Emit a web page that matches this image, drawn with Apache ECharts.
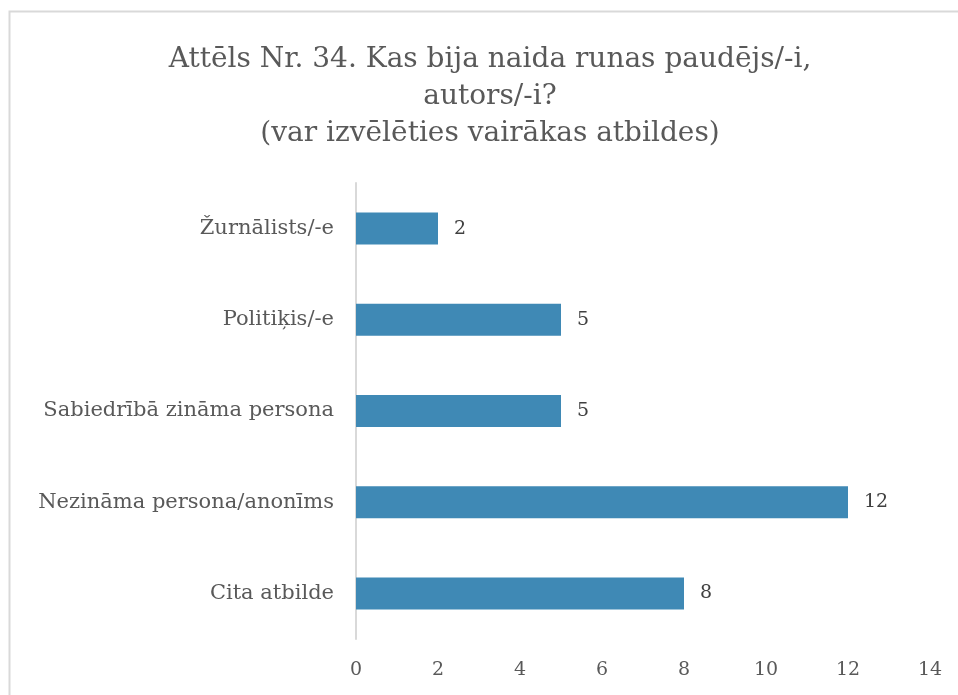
<!DOCTYPE html>
<html>
<head>
<meta charset="utf-8">
<script src="https://cdn.jsdelivr.net/npm/echarts@6/dist/echarts.min.js"></script>
<style>
  html, body { margin: 0; padding: 0; background: #fff; }
  #chart { width: 958px; height: 695px; }
</style>
</head>
<body>
<div id="chart"></div>
<script>
// dati
var categories = ['Žurnālists/-e', 'Politiķis/-e', 'Sabiedrībā zināma persona', 'Nezināma persona/anonīms', 'Cita atbilde'];
var values = [2, 5, 5, 12, 8];
var xTicks = [0, 14, 2]; // min, max, interval

var chart = echarts.init(document.getElementById('chart'));
var serif = '"DejaVu Serif", serif';

var option = {
    backgroundColor: '#fff',
    animation: false,
    title: {
        text: 'Attēls Nr. 34. Kas bija naida runas paudējs/-i,\nautors/-i?\n(var izvēlēties vairākas atbildes)',
        left: 485,
        textAlign: 'center',
        top: 36,
        textStyle: {
            fontFamily: serif,
            fontWeight: 'normal',
            fontSize: 28,
            lineHeight: 37,
            color: '#595959'
        }
    },
    graphic: [{
        type: 'polyline',
        shape: { points: [[9.5, 1000], [9.5, 11.5], [1000, 11.5]] },
        style: { stroke: '#d9d9d9', lineWidth: 2, fill: null }
    }],
    grid: {
        left: 356,
        width: 574,
        top: 183,
        height: 456,
        containLabel: false
    },
    xAxis: {
        type: 'value',
        min: xTicks[0],
        max: xTicks[1],
        interval: xTicks[2],
        axisLine: { show: false },
        axisTick: { show: false },
        splitLine: { show: false },
        axisLabel: {
            margin: 22,
            fontFamily: serif,
            fontSize: 19,
            color: '#595959'
        }
    },
    yAxis: {
        type: 'category',
        data: categories,
        inverse: true,
        axisLine: { lineStyle: { color: '#d9d9d9', width: 2 } },
        axisTick: { show: false },
        axisLabel: {
            margin: 22,
            fontFamily: serif,
            fontSize: 21,
            color: '#595959'
        }
    },
    series: [{
        type: 'bar',
        data: values,
        barWidth: 32,
        itemStyle: { color: '#3f89b5' },
        label: {
            show: true,
            position: 'right',
            distance: 16,
            fontFamily: serif,
            fontSize: 19,
            color: '#404040'
        }
    }]
};
chart.setOption(option);
</script>
</body>
</html>
